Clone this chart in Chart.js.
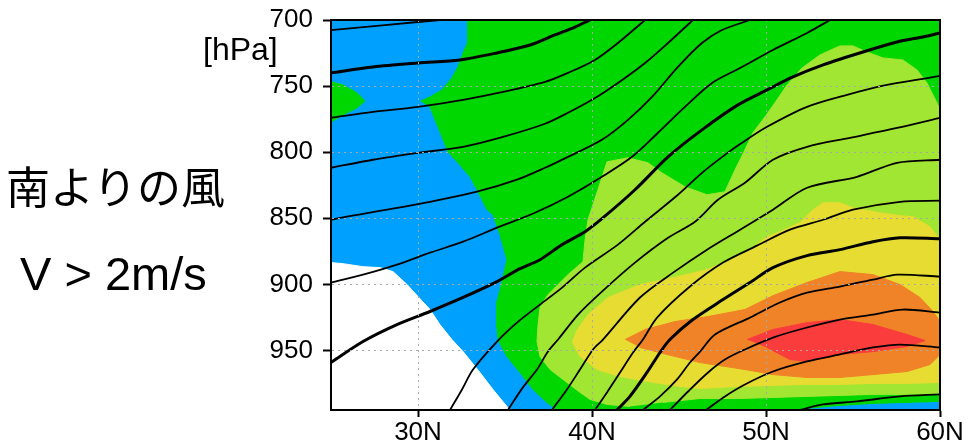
<!DOCTYPE html>
<html>
<head>
<meta charset="utf-8">
<script src="https://cdn.jsdelivr.net/npm/chart.js@4/dist/chart.umd.min.js"></script>
<style>
  body { margin: 0; background: #fff; }
  #wrap { position: relative; width: 970px; height: 441px; overflow: hidden; }
  .txt { position: absolute; line-height: 1; color: #000; white-space: nowrap; }
  #title { left: 6px; top: 163px; font: 44px "Noto Sans CJK JP", sans-serif; line-height: 1; }
  #cond { left: 20px; top: 250px; font: 47px "Liberation Sans", Arial, sans-serif; line-height: 1; }
  #unit { left: 203px; top: 33px; font: 32px "Liberation Sans", Arial, sans-serif; line-height: 1; }
</style>
</head>
<body>
<div id="wrap">
  <canvas id="chart" width="970" height="441"></canvas>
  <div class="txt" id="title">南よりの風</div>
  <div class="txt" id="cond">V &gt; 2m/s</div>
  <div class="txt" id="unit">[hPa]</div>
</div>
<script>
// axis ticks
const latTicks = [30, 40, 50, 60];
const pressTicks = [700, 750, 800, 850, 900, 950];

// shaded areas (meridional wind), outlines as [lat, hPa]
const areaBlue = [[25, 700], [60, 700], [60, 995], [25, 995]];
const areaWhite = [[25, 883.5], [25.69, 884.3], [26.84, 886.6], [27.82, 887.3], [28.56, 890.3], [29.37, 900.1],
  [30, 909.2], [30.69, 919], [31.26, 930.4], [31.95, 941.7], [32.59, 950.8], [33.56, 966.6], [34.31, 979.5],
  [35.11, 992.3], [35.29, 995], [25, 995]];
const areaGreen = [[32.87, 700], [32.87, 716.6], [32.59, 724.9], [32.3, 735.5], [31.95, 743.8], [31.38, 752.9],
  [30.69, 758.2], [30.17, 761.2], [30.69, 765.7], [30.98, 775.5], [31.38, 788.4], [31.72, 799.7], [32.3, 808],
  [32.99, 818.6], [33.39, 828.4], [33.97, 843.5], [34.31, 847.3], [34.71, 862.4], [35.11, 881.3], [34.83, 897.9],
  [34.54, 913], [34.54, 932.6], [34.6, 941.7], [35.11, 954.5], [35.86, 966.6], [36.61, 979.5], [37.41, 989.3],
  [37.99, 995], [60, 995], [60, 700]];
const areaGreenWest = [[25, 746.8], [25.69, 749.1], [26.49, 755.1], [26.95, 761.2], [26.49, 766.5],
  [25.69, 771.8], [25.23, 775.5], [25, 777]];
const areaBlueNorth = [[51.95, 995], [54.25, 992.3], [56.15, 990.8], [58.1, 990], [60, 989.3], [60, 995]];
const areaLime = [[42.18, 992.3], [40.86, 990.8], [39.89, 987], [39.31, 981.7], [38.56, 974.2], [37.59, 964.4],
  [37.01, 954.5], [36.84, 943.2], [36.9, 930.4], [37.01, 917.5], [37.47, 907.7], [38.62, 892.6], [39.48, 882.8],
  [39.6, 866.2], [39.77, 851.1], [40.34, 828.4], [40.86, 807.3], [42.07, 804.2], [43.22, 808], [44.02, 815.6],
  [45.34, 826.1], [46.61, 832.2], [47.64, 829.9], [48.22, 813.3], [48.79, 798.2], [49.25, 785.3], [49.94, 773.3],
  [50.63, 760.4], [51.21, 749.1], [52.07, 736.3], [53.1, 726.4], [54.25, 719.6], [55, 719.6], [55.8, 724.2],
  [56.72, 728.7], [57.87, 730.2], [58.68, 737.8], [59.25, 747.6], [59.83, 762.7], [60, 768], [60, 982.5],
  [58.1, 983.2], [56.15, 983.2], [54.25, 984], [52.36, 984.7], [50.4, 985.5], [48.51, 986.3], [46.21, 986.3],
  [44.08, 989.3]];
const areaYellow = [[38.85, 943.2], [39.31, 954.5], [40.29, 964.4], [41.61, 969.6], [43.16, 973.4], [45.06, 977.2],
  [46.21, 978.7], [48.51, 977.2], [50.4, 976.4], [52.36, 975.7], [54.25, 975.7], [56.15, 974.9], [58.1, 974.9],
  [60, 974.2], [60, 866.2], [59.43, 856.3], [58.45, 848.8], [57.7, 848], [56.55, 845.8], [55, 842], [54.25, 838.2],
  [53.28, 838.2], [52.7, 843.5], [51.95, 853.3], [50.8, 860.1], [50.06, 863.9], [49.08, 873.7], [47.93, 881.3],
  [46.61, 888.8], [44.66, 894.9], [42.76, 900.1], [40.92, 909.9], [39.77, 922.8], [39.08, 935.7]];
const areaOrange = [[41.9, 941.7], [43.05, 934.1], [44.77, 928.1], [46.67, 924.3], [48.79, 919], [50.4, 908.5],
  [52.36, 898.6], [54.25, 890.3], [56.15, 892.6], [57.7, 900.1], [58.85, 909.9], [59.6, 920.5], [60, 928.1],
  [60, 953], [59.43, 960.6], [58.1, 965.9], [56.15, 968.2], [54.25, 970.4], [52.36, 970.4], [50.4, 968.2],
  [48.79, 964.4], [46.21, 959.1], [44.31, 953], [42.76, 947.7]];
const areaRed = [[48.91, 941.7], [50.4, 934.1], [52.36, 928.9], [54.25, 926.6], [56.15, 930.4], [58.1, 937.9],
  [59.14, 942.5], [58.1, 947], [56.15, 950.8], [54.25, 953], [52.36, 958.3], [51.38, 956.8], [50.06, 947.7]];

// contour lines, [lat, hPa]
const line1 = [[25, 707.6], [28.1, 703.8], [31.26, 700]];
const line2 = [[25, 740], [27.41, 735.5], [30, 732.5], [32.41, 730.2], [34.54, 724.9], [36.44, 718.9],
  [37.87, 711.3], [39.02, 705.3], [39.89, 700]];
const line3 = [[25, 774], [27.41, 769.5], [30, 765.7], [32.59, 760.4], [34.89, 754.4], [37.3, 746.8],
  [38.62, 740], [40.17, 730.2], [41.49, 717.4], [43.05, 700]];
const line4 = [[25, 811.8], [27.41, 805.7], [30, 800.5], [32.59, 795.9], [34.89, 788.4], [37.3, 778.5],
  [38.62, 770.2], [40, 760.4], [41.49, 747.6], [43.05, 732.5], [44.37, 717.4], [45.8, 700]];
const line5 = [[25, 851.1], [25.92, 848.8], [30.69, 837.5], [33.39, 829.9], [35.69, 820.8], [37.3, 811.8],
  [38.62, 803.5], [40.57, 790.6], [42.07, 775.5], [43.45, 758.2], [44.94, 735.5], [46.32, 717.4],
  [47.47, 707.6], [49.08, 700]];
const line6 = [[25, 898.6], [26.84, 892.6], [28.79, 885], [30.69, 876], [32.59, 867.7], [34.54, 857.1],
  [36.72, 845.8], [38.62, 833.7], [40.57, 818.6], [42.3, 803.5], [43.79, 785.3], [45.34, 765.7],
  [46.9, 747.6], [48.51, 736.3], [50.4, 722.7], [52.36, 709.8], [53.68, 700]];
const line7 = [[25, 959.1], [26.84, 943.2], [28.79, 930.4], [30.69, 920.5], [32.59, 909.9], [34.54, 897.9],
  [35.86, 888.1], [37.01, 881.3], [38.28, 869.9], [39.6, 860.1], [40.57, 850.3], [42.47, 828.4],
  [44.37, 803.5], [46.32, 783.1], [48.39, 764.2], [50.06, 752.9], [51.55, 743.1], [53.28, 734],
  [55.57, 724.2], [57.53, 716.6], [59.02, 712.8], [60, 709.8]];
const line8 = [[31.84, 995], [32.53, 979.5], [33.16, 964.4], [34.54, 943.2], [35.69, 928.9], [37.01, 915.3],
  [38.28, 902.4], [39.6, 887.3], [41.49, 869.9], [43.05, 852.6], [44.94, 832.2], [46.32, 815.6], [47.64, 802],
  [48.62, 792.9], [50.06, 780.8], [52.36, 765.7], [54.66, 756.6], [56.95, 749.1], [59.02, 744.6], [60, 742.3]];
const line9 = [[35.17, 995], [36.03, 977.9], [36.84, 964.4], [37.47, 950.8], [38.05, 941.7], [39.2, 922.8],
  [40.57, 905.4], [42.47, 883.5], [44.37, 864.7], [45.92, 852.6], [47.24, 836], [48.79, 823.1], [50.4, 805.7],
  [52.36, 795.9], [54.83, 789.1], [57.53, 781.6], [60, 774]];
const line10 = [[37.7, 995], [38.56, 979.5], [39.31, 964.4], [40.06, 949.2], [40.63, 941.7], [42.76, 909.9],
  [44.66, 891.1], [46.61, 873.7], [48.51, 858.6], [50.4, 843.5], [52.36, 826.9], [55.23, 818.6],
  [57.53, 808], [60, 805.7]];
const line11 = [[40.17, 995], [40.86, 981.7], [41.61, 966.6], [42.36, 951.5], [42.93, 941.7], [43.74, 925.1],
  [45.63, 901.6], [47.53, 883.5], [49.48, 870.7], [51.38, 858.6], [53.28, 851.1], [55, 843.5],
  [57.7, 837.5], [60, 836.7]];
const line12 = [[41.44, 995], [42.18, 984.7], [43.16, 966.6], [43.91, 951.5], [44.48, 941.7], [45.8, 926.6],
  [47.53, 911.5], [49.08, 898.6], [50.4, 887.3], [52.36, 878.2], [54.25, 873.7], [56.15, 867.7],
  [57.7, 864.7], [60, 865.4]];
const line13 = [[42.93, 995], [43.91, 984.7], [44.89, 971.9], [45.63, 959.1], [46.21, 950.8], [47.07, 937.9],
  [49.08, 925.1], [50.8, 913.7], [52.36, 906.2], [54.25, 901.6], [56.15, 896.4], [57.53, 892.6], [60, 894.1]];
const line14 = [[44.48, 995], [45.52, 981], [46.67, 966.6], [47.64, 956.8], [48.79, 949.2], [50.4, 940.2],
  [52.36, 932.6], [54.25, 926.6], [56.15, 922.8], [57.87, 919], [60, 921.3]];
const line15 = [[46.55, 995], [47.64, 984.7], [48.79, 975.7], [50.4, 965.9], [52.36, 958.3], [54.25, 953],
  [56.15, 947.7], [57.7, 945.5], [60, 947.7]];
const line16 = [[51.95, 995], [53.28, 990.8], [55.23, 988.5], [57.7, 984.7], [60, 983.2]];

const thinLines = [line1, line3, line4, line5, line6, line8, line9, line10, line11, line13, line14, line15, line16];
const thickLines = [line2, line7, line12];

function toPoints(arr) {
    return arr.map(function(p) { return {x: p[0], y: p[1]}; });
}

// filled area, lower order is painted later (on top)
function shade(arr, color, order) {
    return {
        data: toPoints(arr),
        showLine: true,
        fill: 'shape',
        backgroundColor: color,
        borderColor: color,
        borderWidth: 1,
        pointRadius: 0,
        tension: 0,
        order: order
    };
}

function contour(arr, width) {
    return {
        data: toPoints(arr),
        showLine: true,
        fill: false,
        borderColor: '#000',
        borderWidth: width,
        pointRadius: 0,
        tension: 0.3,
        order: 0
    };
}

const datasets = [
    shade(areaBlue, 'rgb(0,160,255)', 20),
    shade(areaWhite, '#ffffff', 19),
    shade(areaGreen, 'rgb(0,215,0)', 18),
    shade(areaGreenWest, 'rgb(0,215,0)', 17),
    shade(areaBlueNorth, 'rgb(0,160,255)', 16),
    shade(areaLime, 'rgb(160,230,50)', 15),
    shade(areaYellow, 'rgb(230,220,50)', 14),
    shade(areaOrange, 'rgb(240,130,40)', 13),
    shade(areaRed, 'rgb(250,60,60)', 12)
];
thinLines.forEach(function(l) { datasets.push(contour(l, 1.8)); });
thickLines.forEach(function(l) { datasets.push(contour(l, 3)); });

// black frame round the plot
const framePlugin = {
    id: 'frame',
    afterDraw: function(chart) {
        const a = chart.chartArea;
        const ctx = chart.ctx;
        ctx.save();
        ctx.strokeStyle = '#000';
        ctx.lineWidth = 2;
        ctx.strokeRect(a.left, a.top, a.right - a.left, a.bottom - a.top);
        ctx.restore();
    }
};

const tickFont = {family: '"Liberation Sans", Arial, sans-serif', size: 26};

new Chart(document.getElementById('chart').getContext('2d'), {
    type: 'scatter',
    data: {datasets: datasets},
    plugins: [framePlugin],
    options: {
        responsive: false,
        animation: false,
        events: [],
        layout: {padding: {left: 0, right: 30, top: 20, bottom: 0}},
        plugins: {legend: {display: false}, tooltip: {enabled: false}},
        scales: {
            x: {
                type: 'linear',
                min: 25,
                max: 60,
                afterBuildTicks: function(scale) {
                    scale.ticks = latTicks.map(function(v) { return {value: v}; });
                },
                afterFit: function(scale) {
                    scale.height = 31;
                    scale.paddingLeft = 0;
                    scale.paddingRight = 0;
                },
                grid: {z: 1, color: '#a8a8a8', lineWidth: 1, tickColor: '#000', tickWidth: 2, tickLength: 7},
                border: {z: 1, display: true, color: '#000', width: 2, dash: [2, 4]},
                ticks: {
                    font: tickFont,
                    color: '#000',
                    padding: 0,
                    maxRotation: 0,
                    callback: function(v) { return v + 'N'; }
                }
            },
            y: {
                type: 'linear',
                reverse: true,
                min: 700,
                max: 995,
                afterBuildTicks: function(scale) {
                    scale.ticks = pressTicks.map(function(v) { return {value: v}; });
                },
                afterFit: function(scale) {
                    scale.width = 331;
                    scale.paddingTop = 0;
                    scale.paddingBottom = 0;
                },
                grid: {z: 1, color: '#a8a8a8', lineWidth: 1, tickColor: '#000', tickWidth: 2, tickLength: 8},
                border: {z: 1, display: true, color: '#000', width: 2, dash: [2, 4]},
                ticks: {
                    font: tickFont,
                    color: '#000',
                    padding: 10,
                    callback: function(v) { return String(v); }
                }
            }
        }
    }
});
</script>
</body>
</html>
